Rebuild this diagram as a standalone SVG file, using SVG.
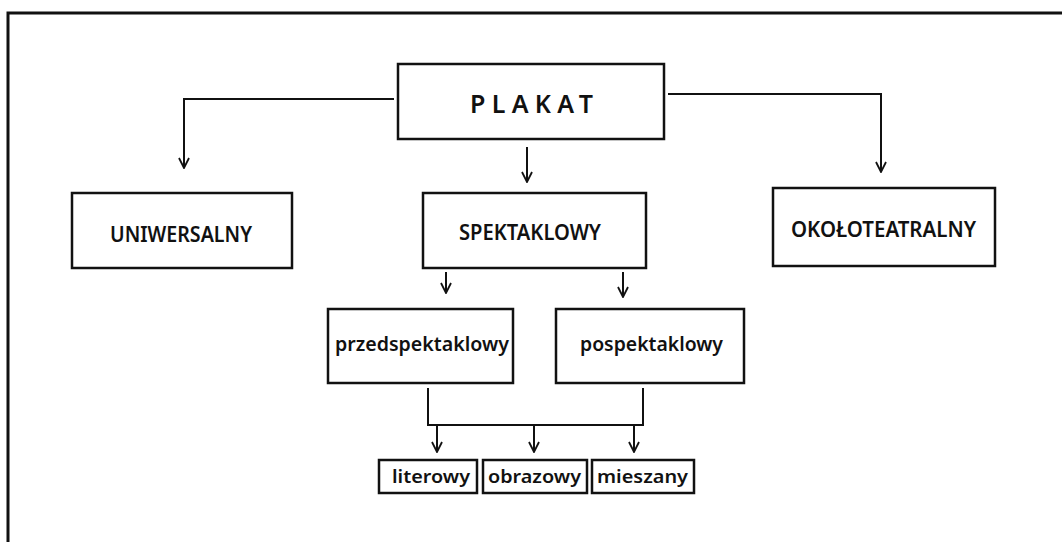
<svg xmlns="http://www.w3.org/2000/svg" width="1062" height="542" viewBox="0 0 1062 542">
<style>
.box{fill:#fff;stroke:#111;stroke-width:2.5}
.sbox{fill:#fff;stroke:#111;stroke-width:2.5}
.con{fill:none;stroke:#111;stroke-width:2}
.t{font-family:"Noto Sans","Open Sans",sans-serif;fill:#111;text-anchor:start;font-weight:600}
.big{font-size:22px}
.low{font-size:20px}
.sm{font-size:17px}
</style>
<defs>
<marker id="ah" viewBox="0 0 12 12" refX="11" refY="6" markerWidth="12" markerHeight="12" markerUnits="userSpaceOnUse" orient="auto">
<path d="M1,1 L11,6 L1,11" fill="none" stroke="#111" stroke-width="1.8"/>
</marker>
</defs>
<rect width="1062" height="542" fill="#fff"/>
<path d="M8,542 V13 H1062" fill="none" stroke="#111" stroke-width="3"/>
<g id="connectors">
<path class="con" d="M394,99 H184 V168" marker-end="url(#ah)"/>
<path class="con" d="M668,94 H881 V172" marker-end="url(#ah)"/>
<path class="con" d="M527,147 V182" marker-end="url(#ah)"/>
<path class="con" d="M446,272 V293" marker-end="url(#ah)"/>
<path class="con" d="M623,272 V297" marker-end="url(#ah)"/>
<path class="con" d="M428,388 V425 H643 V388"/>
<path class="con" d="M437,425 V452" marker-end="url(#ah)"/>
<path class="con" d="M534,425 V452" marker-end="url(#ah)"/>
<path class="con" d="M634,425 V452" marker-end="url(#ah)"/>
</g>
<g id="plakat">
<rect class="box" x="398" y="64" width="266" height="75"/>
<text class="t" x="470" y="113" font-size="25" font-weight="bold" textLength="123" lengthAdjust="spacing">PLAKAT</text>
</g>
<g id="uniwersalny">
<rect class="box" x="72" y="193" width="220" height="75"/>
<text class="t big" x="110" y="242" textLength="142" lengthAdjust="spacingAndGlyphs">UNIWERSALNY</text>
</g>
<g id="spektaklowy">
<rect class="box" x="423" y="193" width="223" height="75"/>
<text class="t big" x="459" y="240" textLength="142" lengthAdjust="spacingAndGlyphs">SPEKTAKLOWY</text>
</g>
<g id="okoloteatralny">
<rect class="box" x="773" y="188" width="222" height="78"/>
<text class="t big" x="791" y="237" textLength="185" lengthAdjust="spacingAndGlyphs">OKOŁOTEATRALNY</text>
</g>
<g id="przedspektaklowy">
<rect class="box" x="328" y="309" width="185" height="74"/>
<text class="t low" x="335" y="351" textLength="174" lengthAdjust="spacingAndGlyphs">przedspektaklowy</text>
</g>
<g id="pospektaklowy">
<rect class="box" x="556" y="309" width="188" height="74"/>
<text class="t low" x="580" y="351" textLength="143" lengthAdjust="spacingAndGlyphs">pospektaklowy</text>
</g>
<g id="literowy">
<rect class="sbox" x="379" y="460" width="98" height="33"/>
<text class="t sm" x="392" y="483" textLength="78" lengthAdjust="spacingAndGlyphs">literowy</text>
</g>
<g id="obrazowy">
<rect class="sbox" x="483" y="460" width="104" height="33"/>
<text class="t sm" x="488" y="483" textLength="93" lengthAdjust="spacingAndGlyphs">obrazowy</text>
</g>
<g id="mieszany">
<rect class="sbox" x="592" y="460" width="102" height="33"/>
<text class="t sm" x="597" y="483" textLength="91" lengthAdjust="spacingAndGlyphs">mieszany</text>
</g>
</svg>
